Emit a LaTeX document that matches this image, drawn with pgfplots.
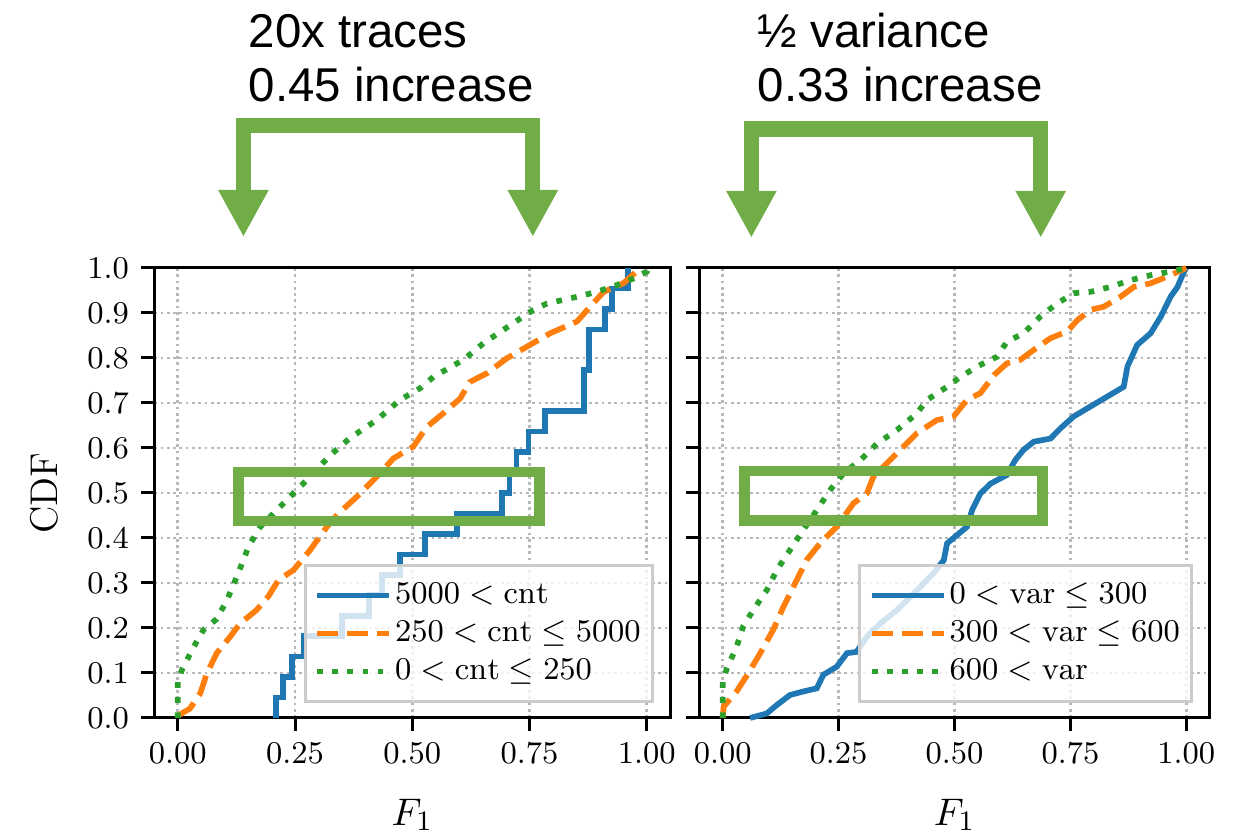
\documentclass[border=0pt]{standalone}
\usepackage{fontspec}
\usepackage{pgfplots}
\pgfplotsset{compat=1.18}
\usetikzlibrary{arrows.meta}
\newfontfamily\annfont{Liberation Sans}
\definecolor{cBlue}{HTML}{1F77B4}
\definecolor{cOrange}{HTML}{FF7F0E}
\definecolor{cGreen}{HTML}{2CA02C}
\definecolor{cMark}{HTML}{70AD47}

\pgfplotsset{
  cdfpanel/.style={
    scale only axis,
    height=45mm,
    xmin=-0.05, xmax=1.05, ymin=0, ymax=1,
    xtick={0,0.25,0.5,0.75,1},
    ytick={0,0.1,0.2,0.3,0.4,0.5,0.6,0.7,0.8,0.9,1},
    tick pos=left,
    tick align=outside,
    major tick length=1.3mm,
    tick style={black, line width=0.3mm},
    axis line style={line width=0.3mm},
    grid=major,
    grid style={black!28, line width=0.27mm, dash pattern=on 0.27mm off 0.36mm},
    tick label style={font=\fontsize{8.8}{10}\selectfont},
    xticklabel style={/pgf/number format/.cd, fixed, fixed zerofill, precision=2},
    yticklabel style={/pgf/number format/.cd, fixed, fixed zerofill, precision=1},
    xlabel={$F_1$},
    xlabel style={at={(rel axis cs:0.5,-0.238)}, anchor=base, font=\fontsize{11}{13}\selectfont},
    clip=false,
    legend cell align=left,
    legend style={at={(1,0)}, anchor=south east, xshift=-1.6mm, yshift=1.5mm,
      draw=black!20, line width=0.3mm, fill=white, fill opacity=0.8, text opacity=1,
      font=\fontsize{9}{10.8}\selectfont, inner xsep=0.9mm, inner ysep=1.1mm,
      nodes={inner xsep=0.3mm, inner ysep=0.4mm, text height=2.3mm, text depth=0.7mm}},
    legend image code/.code={\draw[#1] plot coordinates {(0mm,0mm) (7.2mm,0mm)};},
  },
  sBlue/.style={cBlue, line width=0.57mm, solid},
  sOrange/.style={cOrange, line width=0.57mm, dash pattern=on 2.1mm off 0.9mm},
  sGreen/.style={cGreen, line width=0.57mm, dash pattern=on 0.57mm off 0.94mm},
}

\begin{document}
\begin{tikzpicture}
\useasboundingbox (0,0) rectangle (124mm,83.4mm);

% left panel: trace count
\begin{axis}[cdfpanel, width=51.6mm, at={(15.43mm,11.6mm)}, anchor=south west,
  ylabel={CDF},
  ylabel style={at={(rel axis cs:-0.213,0.5)}, anchor=center, font=\fontsize{11}{13}\selectfont}]
\addplot[sBlue, const plot] coordinates {
  (0.210,0) (0.210,0.0455) (0.225,0.0909) (0.243,0.1364) (0.268,0.1818)
  (0.350,0.2273) (0.407,0.2727) (0.435,0.3182) (0.474,0.3636) (0.527,0.4091)
  (0.595,0.4545) (0.691,0.5) (0.707,0.5455) (0.722,0.5909) (0.748,0.6364)
  (0.783,0.6818) (0.866,0.7727) (0.876,0.8636) (0.911,0.9091) (0.925,0.9545)
  (0.960,1.0)
};
\addlegendentry{$5000 < \mathrm{cnt}$}
\addplot[sOrange] coordinates {
  (0,0.005) (0.026,0.021) (0.048,0.055) (0.062,0.099) (0.083,0.144)
  (0.112,0.181) (0.133,0.210) (0.168,0.240) (0.193,0.270) (0.215,0.307)
  (0.247,0.329) (0.282,0.373) (0.318,0.425) (0.343,0.455) (0.382,0.492)
  (0.424,0.536) (0.460,0.577) (0.502,0.603) (0.531,0.647) (0.566,0.677)
  (0.602,0.710) (0.623,0.747) (0.659,0.766) (0.701,0.799) (0.744,0.825)
  (0.794,0.855) (0.851,0.881) (0.879,0.914) (0.908,0.947) (0.950,0.966)
  (0.982,0.996) (0.990,1.0)
};
\addlegendentry{$250 < \mathrm{cnt} \leq 5000$}
\addplot[sGreen] coordinates {
  (0,0) (0,0.081) (0.009,0.107) (0.034,0.158) (0.055,0.196) (0.083,0.220)
  (0.105,0.262) (0.129,0.322) (0.151,0.381) (0.176,0.425) (0.211,0.462)
  (0.254,0.507) (0.282,0.536) (0.325,0.584) (0.367,0.622) (0.424,0.662)
  (0.474,0.707) (0.517,0.733) (0.545,0.758) (0.609,0.796) (0.652,0.833)
  (0.709,0.873) (0.758,0.907) (0.787,0.921) (0.851,0.936) (0.893,0.947)
  (0.936,0.962) (0.972,0.977) (1.0,0.992) (1.0,1.0)
};
\addlegendentry{$0 < \mathrm{cnt} \leq 250$}
\draw[cMark, line width=1.05mm] (axis cs:0.129,0.438) rectangle (axis cs:0.771,0.547);
\draw[cMark, line width=1.5mm, line join=miter,
  {Triangle[width=4.7mm,length=4.7mm]}-{Triangle[width=4.7mm,length=4.7mm]}]
  (axis cs:0.140,1.069) -- (axis cs:0.140,1.317) -- (axis cs:0.757,1.317) -- (axis cs:0.757,1.069);
\node[anchor=base west, inner sep=0, font=\annfont\fontsize{13.5}{16}\selectfont]
  at (axis cs:0.150,1.491) {20x traces};
\node[anchor=base west, inner sep=0, font=\annfont\fontsize{13.5}{16}\selectfont]
  at (axis cs:0.150,1.369) {0.45 increase};
\end{axis}

% right panel: variance
\begin{axis}[cdfpanel, width=51.0mm, at={(69.95mm,11.6mm)}, anchor=south west,
  yticklabels={}]
\addplot[sBlue] coordinates {
  (0.059,0) (0.095,0.01) (0.117,0.029) (0.145,0.051) (0.174,0.059)
  (0.203,0.066) (0.217,0.096) (0.246,0.114) (0.268,0.144) (0.289,0.147)
  (0.311,0.181) (0.340,0.210) (0.376,0.240) (0.419,0.284) (0.455,0.322)
  (0.477,0.351) (0.484,0.388) (0.506,0.407) (0.527,0.425) (0.538,0.462)
  (0.556,0.499) (0.578,0.521) (0.613,0.540) (0.631,0.573) (0.649,0.596)
  (0.671,0.614) (0.707,0.621) (0.729,0.644) (0.757,0.670) (0.793,0.692)
  (0.829,0.714) (0.865,0.736) (0.873,0.781) (0.894,0.829) (0.923,0.855)
  (0.945,0.892) (0.966,0.936) (0.981,0.958) (0.995,0.992) (1.0,1.0)
};
\addlegendentry{$0 < \mathrm{var} \leq 300$}
\addplot[sOrange] coordinates {
  (0,0) (0.002,0.025) (0.030,0.059) (0.055,0.099) (0.081,0.144)
  (0.109,0.196) (0.131,0.247) (0.160,0.307) (0.181,0.351) (0.210,0.388)
  (0.246,0.425) (0.282,0.477) (0.311,0.499) (0.325,0.536) (0.354,0.566)
  (0.390,0.603) (0.419,0.633) (0.462,0.662) (0.498,0.670) (0.527,0.707)
  (0.556,0.722) (0.585,0.762) (0.613,0.788) (0.642,0.796) (0.671,0.818)
  (0.707,0.844) (0.743,0.859) (0.765,0.884) (0.793,0.907) (0.822,0.914)
  (0.858,0.936) (0.887,0.958) (0.923,0.966) (0.966,0.984) (0.995,0.998)
  (1.0,1.0)
};
\addlegendentry{$300 < \mathrm{var} \leq 600$}
\addplot[sGreen] coordinates {
  (0,0) (0,0.081) (0.009,0.110) (0.030,0.158) (0.044,0.203) (0.066,0.240)
  (0.095,0.284) (0.117,0.329) (0.145,0.373) (0.174,0.418) (0.203,0.462)
  (0.232,0.507) (0.261,0.544) (0.297,0.573) (0.333,0.610) (0.376,0.640)
  (0.419,0.677) (0.441,0.707) (0.484,0.736) (0.513,0.758) (0.549,0.781)
  (0.592,0.803) (0.613,0.836) (0.649,0.855) (0.685,0.892) (0.721,0.921)
  (0.757,0.944) (0.793,0.947) (0.836,0.958) (0.880,0.973) (0.923,0.984)
  (0.966,0.992) (1.0,1.0)
};
\addlegendentry{$600 < \mathrm{var}$}
\draw[cMark, line width=1.05mm] (axis cs:0.0475,0.439) rectangle (axis cs:0.690,0.549);
\draw[cMark, line width=1.55mm, line join=miter,
  {Triangle[width=4.7mm,length=4.7mm]}-{Triangle[width=4.7mm,length=4.7mm]}]
  (axis cs:0.062,1.067) -- (axis cs:0.062,1.309) -- (axis cs:0.686,1.309) -- (axis cs:0.686,1.067);
\node[anchor=base west, inner sep=0, font=\annfont\fontsize{13.5}{16}\selectfont]
  at (axis cs:0.074,1.491) {½ variance};
\node[anchor=base west, inner sep=0, font=\annfont\fontsize{13.5}{16}\selectfont]
  at (axis cs:0.074,1.369) {0.33 increase};
\end{axis}
\end{tikzpicture}
\end{document}
